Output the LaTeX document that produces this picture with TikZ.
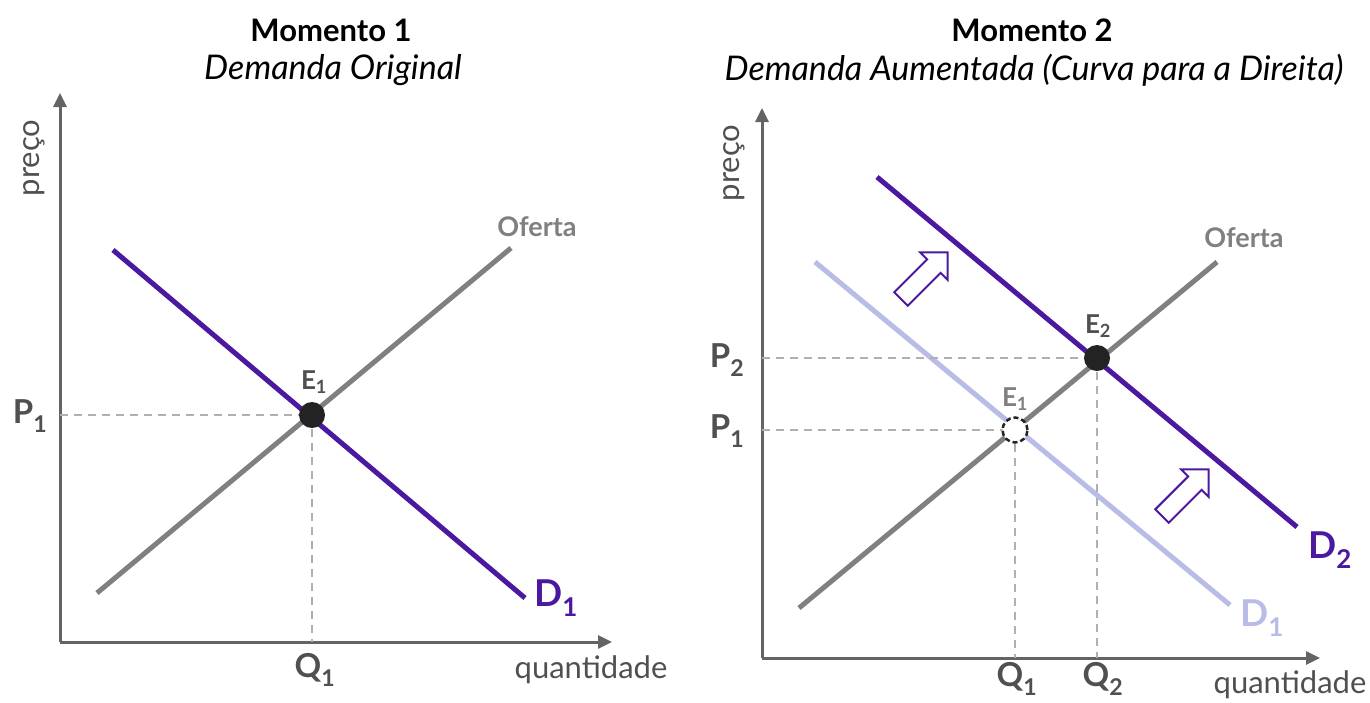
\documentclass[tikz,border=0pt]{standalone}
\usepackage{fontspec}
\setmainfont{Lato}
\usetikzlibrary{arrows.meta,positioning,shapes.arrows}
\definecolor{cRoxo}{RGB}{75,25,160}
\definecolor{cRoxoClaro}{RGB}{184,188,230}
\definecolor{cCinza}{RGB}{128,128,128}
\definecolor{cEixo}{RGB}{100,100,100}
\definecolor{cRotulo}{RGB}{80,80,80}
\definecolor{cGuia}{RGB}{175,175,175}
\definecolor{cPonto}{RGB}{35,35,35}

\begin{document}
\begin{tikzpicture}[x=1pt,y=-1pt,
  eixo/.style={-{Triangle[length=14pt,width=13pt]},cEixo,line width=3pt},
  oferta/.style={cCinza,line width=5pt},
  demanda/.style={cRoxo,line width=5pt},
  antiga/.style={cRoxoClaro,line width=5pt},
  guia/.style={cGuia,line width=2pt,dash pattern=on 8pt off 6pt},
  ponto/.style={circle,fill=cPonto,minimum size=26pt,inner sep=0pt},
  vazio/.style={circle,draw=cPonto,fill=white,line width=2.5pt,
                dash pattern=on 5pt off 3pt,minimum size=25pt,inner sep=0pt},
  seta/.style={single arrow,draw=cRoxo,fill=white,line width=2pt,
               inner xsep=0pt,inner ysep=8.5pt,single arrow head extend=10pt,
               minimum height=66pt,rotate=45},
  rot/.style={font=\bfseries\fontsize{33}{35}\selectfont,text=cRotulo},
  rotE/.style={font=\bfseries\fontsize{26}{28}\selectfont,text=cRotulo},
  rotD/.style={font=\bfseries\fontsize{37}{39}\selectfont},
  rotO/.style={font=\bfseries\fontsize{27}{29}\selectfont,text=cCinza},
  eixotxt/.style={font=\fontsize{31}{33}\selectfont,text=cRotulo},
  titulo/.style={font=\bfseries\fontsize{31}{33}\selectfont},
  subtit/.style={font=\itshape\fontsize{34}{36}\selectfont},
]
\useasboundingbox (0,0) rectangle (1370,702);

% Momento 1
\node[titulo] (tit1) at (331,30) {Momento 1};
\node[subtit] (sub1) at (333,70) {Demanda Original};

\coordinate (o1) at (60,642);
\coordinate (yt1) at (60,93);
\coordinate (xt1) at (612,642);
\coordinate (e1) at (312,415);
\draw[eixo] (o1) -- (yt1);
\draw[eixo] (o1) -- (xt1);
\node[eixotxt,rotate=90] (preco1) at (34,158) {preço};
\node[eixotxt] (quant1) at (591,670) {quantidade};

\draw[guia] (o1 |- e1) -- (e1);
\draw[guia] (e1) -- (e1 |- o1);

\coordinate (of1a) at (97,593);
\coordinate (of1b) at (511,248);
\coordinate (d1a) at (113,250);
\coordinate (d1b) at (525,598);
\draw[oferta] (of1a) -- (of1b);
\draw[demanda] (d1a) -- (d1b);
\node[ponto] (E1) at (e1) {};

\node[rotO] (ofl1) at (537,227) {Oferta};
\node[rotD,text=cRoxo] (dl1) at (556,598) {D\textsubscript{1}};
\node[rotE] (el1) at (314,382) {E\textsubscript{1}};
\node[rot] (pl1) at (30,416) {P\textsubscript{1}};
\node[rot] (ql1) at (315,670) {Q\textsubscript{1}};

% Momento 2
\node[titulo] (tit2) at (1032,30) {Momento 2};
\node[subtit] (sub2) at (1034,70) {Demanda Aumentada (Curva para a Direita)};

\coordinate (o2) at (762,658);
\coordinate (yt2) at (762,108);
\coordinate (xt2) at (1320,658);
\coordinate (e2a) at (1015,430);
\coordinate (e2b) at (1097,358);
\draw[eixo] (o2) -- (yt2);
\draw[eixo] (o2) -- (xt2);
\node[eixotxt,rotate=90] (preco2) at (734,163) {preço};
\node[eixotxt] (quant2) at (1290,685) {quantidade};

\coordinate (of2a) at (799,608);
\coordinate (of2b) at (1217,262);
\coordinate (d2a) at (877,177);
\coordinate (d2b) at (1297,527);
\coordinate (da2a) at (815,262);
\coordinate (da2b) at (1230,605);
\draw[antiga] (da2a) -- (da2b);
\draw[guia] (o2 |- e2b) -- (e2b);
\draw[guia] (e2b) -- (e2b |- o2);
\draw[guia] (o2 |- e2a) -- (e2a);
\draw[guia] (e2a) -- (e2a |- o2);
\draw[oferta] (of2a) -- (of2b);
\draw[demanda] (d2a) -- (d2b);
\node[vazio] (E1b) at (e2a) {};
\node[ponto] (E2) at (e2b) {};

\node[seta] (setaA) at (921,279) {};
\node[seta] (setaB) at (1182,496) {};

\node[rotO] (ofl2) at (1244,238) {Oferta};
\node[rotD,text=cRoxo] (dl2) at (1330,550) {D\textsubscript{2}};
\node[rotD,text=cRoxoClaro] (dl1b) at (1262,618) {D\textsubscript{1}};
\node[rotE] (el2) at (1098,326) {E\textsubscript{2}};
\node[rotE,text=cCinza] (el1b) at (1015,399) {E\textsubscript{1}};
\node[rot] (pl2) at (727,360) {P\textsubscript{2}};
\node[rot] (pl1b) at (727,431) {P\textsubscript{1}};
\node[rot] (ql1b) at (1017,679) {Q\textsubscript{1}};
\node[rot] (ql2) at (1103,679) {Q\textsubscript{2}};

\end{tikzpicture}
\end{document}
